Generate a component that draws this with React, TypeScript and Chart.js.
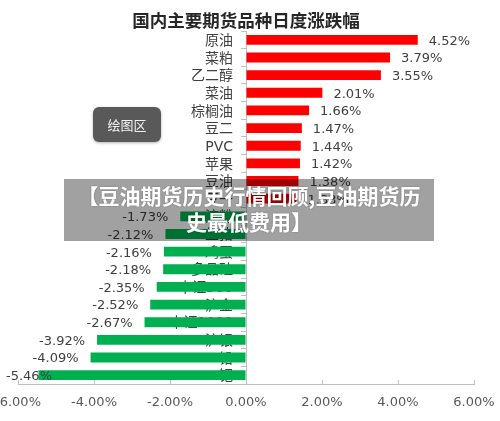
import React, { useEffect, useRef } from "react";
import { Chart, registerables } from "chart.js";

Chart.register(...registerables);

const title = "国内主要期货品种日度涨跌幅";
const categories = ["原油", "菜粕", "乙二醇", "菜油", "棕榈油", "豆二", "PVC", "苹果", "豆油", "豆一", "淀粉", "生猪", "鸡蛋", "多晶硅", "中证500", "沪金", "中证1000", "沪银", "铅", "钯"];
const values = [4.52, 3.79, 3.55, 2.01, 1.66, 1.47, 1.44, 1.42, 1.38, 1.33, -1.73, -2.12, -2.16, -2.18, -2.35, -2.52, -2.67, -3.92, -4.09, -5.46];
const xMin = -6;
const xMax = 6;
const xStep = 2;
const bannerLines = ["【豆油期货历史行情回顾,豆油期货历", "史最低费用】"];
const boxLabel = "绘图区";

const FONT = "'DejaVu Sans', 'Noto Sans CJK SC', sans-serif";

const valueLabelPlugin = {
  id: "valueLabels",
  afterDatasetsDraw(chart: any) {
    const ctx = chart.ctx;
    const meta = chart.getDatasetMeta(0);
    ctx.save();
    ctx.font = `13px ${FONT}`;
    ctx.fillStyle = "#404040";
    ctx.textBaseline = "middle";
    ctx.textAlign = "left";
    meta.data.forEach((bar: any, i: number) => {
      const v = values[i];
      const text = v.toFixed(2) + "%";
      const w = ctx.measureText(text).width;
      const { x, y } = bar.getProps(["x", "y"], true);
      let left = v >= 0 ? x + 11 : x - 12 - w;
      if (left < 6) left = 6;
      ctx.fillText(text, left, y + 1.5);
    });
    ctx.restore();
  },
};

export default function App() {
  const ref = useRef<HTMLCanvasElement | null>(null);

  useEffect(() => {
    if (!ref.current) return;
    const chart = new Chart(ref.current, {
      type: "bar",
      data: {
        labels: categories,
        datasets: [
          {
            data: values,
            backgroundColor: values.map((v) => (v >= 0 ? "#FF0000" : "#00B050")),
            borderWidth: 0,
            barPercentage: 0.56,
            categoryPercentage: 1,
            yAxisID: "y",
          },
        ],
      },
      options: {
        indexAxis: "y",
        animation: false,
        responsive: false,
        devicePixelRatio: 1,
        layout: { padding: { left: 18, right: 26, top: 0, bottom: 13 } },
        plugins: {
          legend: { display: false },
          tooltip: { enabled: false },
          title: {
            display: true,
            text: title,
            color: "#262626",
            font: { family: "'Noto Sans CJK SC', sans-serif", size: 17.5, weight: "bold" },
            padding: { top: 10, bottom: 0 },
          },
        },
        scales: {
          x: {
            type: "linear",
            position: "bottom",
            min: xMin,
            max: xMax,
            grid: {
              drawOnChartArea: false,
              drawTicks: true,
              tickLength: -4,
              color: "#bfbfbf",
            },
            border: { display: true, color: "#bfbfbf" },
            ticks: {
              stepSize: xStep,
              padding: 15,
              color: "#595959",
              font: { family: FONT, size: 13 },
              callback: (v: any) => Number(v).toFixed(2) + "%",
            },
            afterFit(scale: any) {
              scale.paddingLeft = 0;
              scale.paddingRight = 0;
              scale.height = 24;
            },
          },
          y: {
            type: "category",
            position: { x: -0.34 },
            offset: true,
            z: 1,
            grid: {
              offset: true,
              drawOnChartArea: false,
              drawTicks: false,
              color: "rgba(0,0,0,0)",
            },
            border: { display: false },
            ticks: {
              color: "#404040",
              font: { family: FONT, size: 14 },
              autoSkip: false,
              labelOffset: 1.5,
            },
          },
          y2: {
            type: "category",
            position: { x: 0 },
            offset: true,
            grid: {
              offset: true,
              drawOnChartArea: false,
              drawTicks: true,
              tickLength: 5,
              color: "#bfbfbf",
            },
            border: { display: true, color: "#bfbfbf" },
            ticks: { display: false },
          },
        },
      } as any,
      plugins: [valueLabelPlugin],
    });
    return () => chart.destroy();
  }, []);

  return (
    <div style={{ position: "fixed", left: 0, top: 0, width: 500, height: 421, background: "#fff", overflow: "hidden" }}>
      <canvas ref={ref} width={500} height={421} style={{ display: "block" }} />
      <div
        style={{
          position: "absolute",
          left: 93,
          top: 107,
          width: 68,
          height: 35,
          background: "#595959",
          borderRadius: 6,
          boxShadow: "0 1px 3px rgba(0,0,0,0.3)",
          color: "#f2f2f2",
          fontFamily: "'Noto Sans CJK SC', sans-serif",
          fontSize: 13,
          lineHeight: "35px",
          textAlign: "center",
        }}
      >
        {boxLabel}
      </div>
      <div
        style={{
          position: "absolute",
          left: 64,
          top: 179,
          width: 370,
          height: 62,
          background: "rgba(0,0,0,0.37)",
          color: "#ffffff",
          fontFamily: "'Noto Sans CJK SC', sans-serif",
          fontWeight: "bold",
          fontSize: 21,
          lineHeight: "25.5px",
          textAlign: "center",
          paddingTop: 4,
          boxSizing: "border-box",
          textShadow: "0 0 2px rgba(0,0,0,0.3)",
          whiteSpace: "nowrap",
        }}
      >
        {bannerLines[0]}
        <br />
        {bannerLines[1]}
      </div>
    </div>
  );
}
